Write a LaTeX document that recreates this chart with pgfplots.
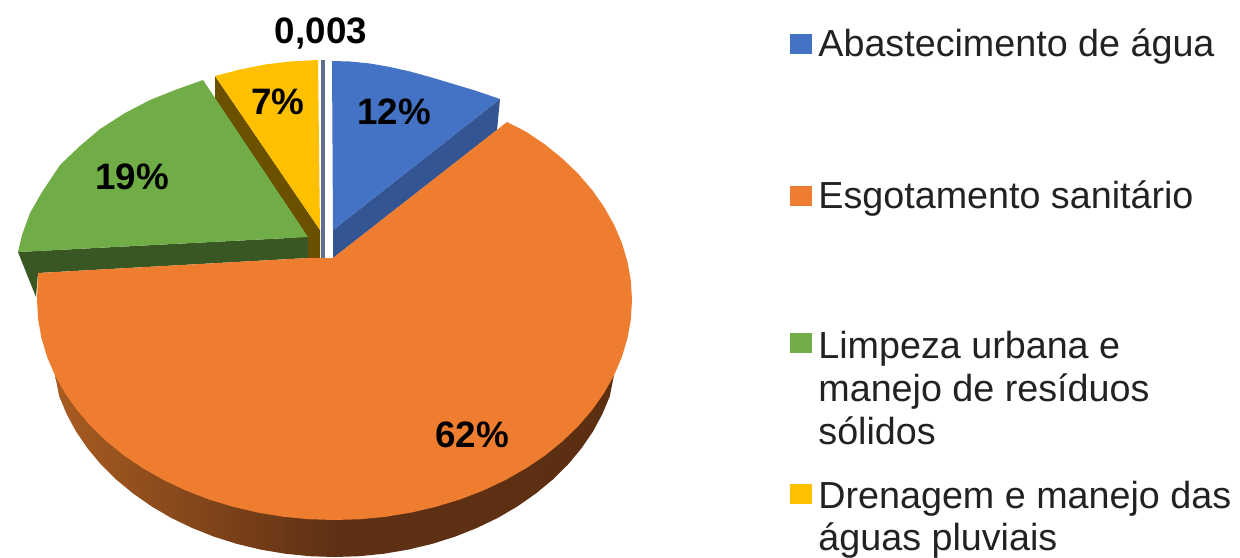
\documentclass[border=0pt]{standalone}
\usepackage{pgfplots}
\pgfplotsset{compat=1.18}
\usepackage{fontspec}
\setmainfont{Liberation Sans}
\definecolor{cblue}{HTML}{4472C4}
\definecolor{cblued}{HTML}{335593}
\definecolor{corange}{HTML}{EF7D30}
\definecolor{cgreen}{HTML}{70AD47}
\definecolor{cgreend}{HTML}{385723}
\definecolor{cyellow}{HTML}{FFC000}
\definecolor{cyellowd}{HTML}{6B5000}
\definecolor{cthin}{HTML}{5F6E8A}
\definecolor{ctext}{HTML}{222222}
\pgfdeclarehorizontalshading{orangeside}{100bp}{
  rgb(0bp)=(0.66,0.36,0.13);
  rgb(25bp)=(0.66,0.36,0.13);
  rgb(50bp)=(0.37,0.19,0.08);
  rgb(75bp)=(0.36,0.18,0.07);
  rgb(100bp)=(0.36,0.18,0.07)}
\newcommand{\lab}[3]{\node[anchor=base,inner sep=0pt,font=\fontsize{18.4pt}{20pt}\selectfont\bfseries] at (axis cs:#1,#2) {#3};}
\newcommand{\leg}[2]{\node[anchor=base west,inner sep=0pt,text=ctext,font=\fontsize{18.85pt}{22pt}\selectfont] at (axis cs:818,#1) {#2};}
\begin{document}
\begin{tikzpicture}
\path[use as bounding box] (0,0) rectangle (620pt,278.5pt);
\begin{axis}[at={(0,0)},anchor=south west,width=620pt,height=278.5pt,scale only axis,
  xmin=0,xmax=1240,ymin=0,ymax=557,y dir=reverse,hide axis,clip=false]
% yellow side
\addplot[fill=cyellowd,draw=none] coordinates {(215,76) (320,230) (320,258) (308,258) (215,105)} --cycle;
% blue side
\addplot[fill=cblued,draw=none] coordinates {(333,230) (500,99) (497,130) (333,258)} --cycle;
% thin slice
\addplot[fill=cthin,draw=none] coordinates {(320.5,60) (325,60) (325,258) (320.5,258)} --cycle;
% blue top
\addplot[fill=cblue,draw=none] coordinates {(332,61) (350,61.5) (370,63.5) (390,67) (410,71.5) (430,77) (450,83) (475,90.5) (500,99) (333,230)} --cycle;
% yellow top
\addplot[fill=cyellow,draw=none] coordinates {(215,76) (240,69.5) (265,64.5) (290,61.5) (318,60) (320,230)} --cycle;
% green side
\addplot[fill=cgreend,draw=none] coordinates {(18,252) (308,237) (308,258) (38,273) (36,297)} --cycle;
% green top
\addplot[fill=cgreen,draw=none] coordinates {(18,252) (22,235) (30,213) (42,192) (60,165) (80,146) (100,129) (125,113) (150,100) (175,90) (203,80) (308,237)} --cycle;
% orange side
\addplot[shading=orangeside,draw=none] coordinates {(55,375) (59.2,396.2) (66.7,414.2) (76.2,431.7) (87.7,448.5) (101,464.5) (116.2,479.5) (133,493.4) (151.3,506.2) (171,517.8) (192,527.9) (214.1,536.7) (237,543.9) (260.7,549.6) (285,553.7) (309.6,556.2) (334.5,557) (359.4,556.2) (384,553.7) (408.3,549.6) (432,543.9) (454.9,536.7) (477,527.9) (498,517.8) (517.7,506.2) (536,493.4) (552.8,479.5) (568,464.5) (581.3,448.5) (592.8,431.7) (602.3,414.2) (609.8,396.2) (614,375)} --cycle;
% orange top
\addplot[fill=corange,draw=none] coordinates {(333,258) (507,122) (525.7,131.5) (544.9,144.4) (562.4,158.6) (578.2,173.8) (592.1,190) (604.1,207) (614.1,224.8) (621.9,243.1) (627.5,261.8) (630.9,280.8) (632,300) (630.9,319.2) (627.5,338.2) (621.9,356.9) (614.1,375.2) (604.1,393) (592.1,410) (578.2,426.2) (562.4,441.4) (544.9,455.6) (525.7,468.5) (505.1,480.2) (483.3,490.5) (460.2,499.4) (436.2,506.7) (411.5,512.5) (386.2,516.7) (360.4,519.2) (334.5,520) (308.6,519.2) (282.8,516.7) (257.5,512.5) (232.8,506.7) (208.8,499.4) (185.7,490.5) (163.9,480.2) (143.3,468.5) (124.1,455.6) (106.6,441.4) (90.8,426.2) (76.9,410) (64.9,393) (54.9,375.2) (47.1,356.9) (41.5,338.2) (38.1,319.2) (37,300) (38,273) (308,258)} --cycle;
% legend keys
\addplot[fill=cblue,draw=none] coordinates {(790,34) (812,34) (812,54) (790,54)} --cycle;
\addplot[fill=corange,draw=none] coordinates {(790,186) (812,186) (812,206) (790,206)} --cycle;
\addplot[fill=cgreen,draw=none] coordinates {(790,333) (812,333) (812,353) (790,353)} --cycle;
\addplot[fill=cyellow,draw=none] coordinates {(790,484) (812,484) (812,504) (790,504)} --cycle;
\lab{321}{43}{0,003}
\lab{278}{114}{7\%}
\lab{394}{124}{12\%}
\lab{132}{189}{19\%}
\lab{472}{447}{62\%}
\leg{56}{Abastecimento de água}
\leg{208}{Esgotamento sanitário}
\leg{358}{Limpeza urbana e}
\leg{401}{manejo de resíduos}
\leg{444}{sólidos}
\leg{508}{Drenagem e manejo das}
\leg{550}{águas pluviais}
\end{axis}
\end{tikzpicture}
\end{document}
